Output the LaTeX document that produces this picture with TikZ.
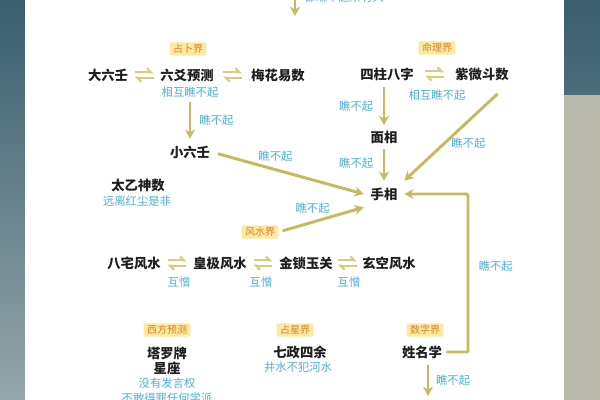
\documentclass[tikz,border=0pt]{standalone}
\usepackage{fontspec}
\setmainfont{Noto Sans CJK SC}
\usetikzlibrary{arrows.meta, calc}

\definecolor{termblack}{RGB}{30,30,30}
\definecolor{remarkcyan}{RGB}{75,178,212}
\definecolor{realmfill}{RGB}{253,233,160}
\definecolor{realmtext}{RGB}{222,128,40}
\definecolor{linkgold}{RGB}{198,186,92}
\definecolor{mutualgold}{RGB}{214,204,122}
\definecolor{edgedark}{RGB}{58,94,110}
\definecolor{edgelight}{RGB}{150,166,170}
\definecolor{edgesand}{RGB}{186,186,170}

\begin{document}
\begin{tikzpicture}[x=0.75pt, y=-0.75pt, >={Stealth[length=7pt, width=7.5pt]},
	term/.style={font=\bfseries\fontsize{10}{12}\selectfont, text=termblack, inner sep=1pt},
	remark/.style={font=\fontsize{8.5}{10}\selectfont, text=remarkcyan, inner sep=1pt},
	realm/.style={fill=realmfill, text=realmtext, font=\fontsize{7.5}{9}\selectfont, rounded corners=1.5pt, inner xsep=2.5pt, inner ysep=1.5pt},
	link/.style={->, draw=linkgold, line width=2.2pt},
	mutual/.style={draw=mutualgold, line width=1.5pt, -{Straight Barb[left, length=3pt, width=6pt]}}]

	% page and backdrop
	\useasboundingbox (0,0) rectangle (600,400);
	\shade[top color=edgedark, bottom color=edgelight] (0,0) rectangle (25,400);
	\shade[top color=edgedark, bottom color=edgedark!80!edgelight] (564,0) rectangle (600,95);
	\fill[edgesand] (564,95) rectangle (600,400);
	\fill[white] (25,0) rectangle (564,400);

	% from above
	\coordinate (topin) at (295,-8);
	\coordinate (topend) at (295,16);
	\node[remark, anchor=west] (topnote) at (303,-3) {都瞧不起所有人};

	% divination
	\node[realm] (zbj) at (188,49) {占卜界};
	\node[term] (dlr) at (108,75) {大六壬};
	\node[term] (lyyc) at (187,75) {六爻预测};
	\node[term] (mhys) at (278,75) {梅花易数};
	\node[remark] (zbnote) at (190,92) {相互瞧不起};
	\node[term] (xlr) at (190,152) {小六壬};
	\node[term] (tyss) at (138,185) {太乙神数};
	\node[remark] (tynote) at (137,201) {远离红尘是非};

	% fate
	\node[realm] (mlj) at (437,48) {命理界};
	\node[term] (szbz) at (387,74) {四柱八字};
	\node[term] (zwds) at (482,74) {紫微斗数};
	\node[remark] (mlnote) at (437,95) {相互瞧不起};
	\node[term] (mian) at (384,137) {面相};
	\node[term, inner sep=5pt] (shou) at (384,194) {手相};

	% fengshui
	\node[realm] (fsj) at (260,232) {风水界};
	\node[term] (bzfs) at (134,263) {八宅风水};
	\node[term] (hjfs) at (220,263) {皇极风水};
	\node[term] (jsyg) at (306,263) {金锁玉关};
	\node[term] (xkfs) at (389,263) {玄空风水};
	\node[remark] (hz1) at (179,282) {互憎};
	\node[remark] (hz2) at (261,282) {互憎};
	\node[remark] (hz3) at (349,282) {互憎};

	% bottom row
	\node[realm] (xfyc) at (167,330) {西方预测};
	\node[term] (tlp) at (167,353) {塔罗牌};
	\node[term] (xz) at (167,368) {星座};
	\node[remark] (xfnote1) at (167,383) {没有发言权};
	\node[remark] (xfnote2) at (167,398) {不敢得罪任何学派};
	\node[realm] (zxj) at (295,330) {占星界};
	\node[term] (qzsy) at (300,352) {七政四余};
	\node[remark] (zxnote) at (298,367) {井水不犯河水};
	\node[realm] (szj) at (425,330) {数字界};
	\node[term] (xmx) at (422,352) {姓名学};
	\coordinate (bend) at (468,352);
	\coordinate (xmxend) at (428,396);

	% mutual contempt
	\foreach \from/\to in {dlr/lyyc, lyyc/mhys, szbz/zwds, bzfs/hjfs, hjfs/jsyg, jsyg/xkfs} {
		\coordinate (mid) at ($(\from.east)!0.5!(\to.west)$);
		\draw[mutual] ([xshift=-7pt, yshift=2pt]mid) -- ([xshift=7pt, yshift=2pt]mid);
		\draw[mutual] ([xshift=7pt, yshift=-2pt]mid) -- ([xshift=-7pt, yshift=-2pt]mid);
	}

	% looking down on
	\draw[link] (topin) -- (topend);
	\draw[link] ([yshift=-2pt]zbnote.south -| xlr.north) -- node[remark, right=5pt] {瞧不起} ([yshift=4pt]xlr.north);
	\draw[link] ([yshift=-4pt]szbz.south -| mian.north) -- node[remark, left=6pt] {瞧不起} ([yshift=3pt]mian.north);
	\draw[link, shorten <=3pt] (mian.south) -- node[remark, left=6pt] {瞧不起} (shou.north);
	\draw[link, shorten <=13pt] (zwds.south east) -- node[remark, right=3pt, pos=0.62] {瞧不起} (shou.north east);
	\draw[link, shorten <=5pt] (xlr.east) -- node[remark, above=4pt, pos=0.42] {瞧不起} (shou.west);
	\draw[link, shorten <=3pt] (fsj.east) -- node[remark, above=4pt, pos=0.4] {瞧不起} (shou.south west);
	\draw[link, shorten <=2pt, rounded corners=1pt] (xmx.east) -- (bend) |- node[remark, right=6pt, pos=0.27] {瞧不起} (shou.east);
	\draw[link] ([yshift=-4pt]xmx.south -| xmxend) -- node[remark, right=4pt] {瞧不起} (xmxend);
\end{tikzpicture}
\end{document}
